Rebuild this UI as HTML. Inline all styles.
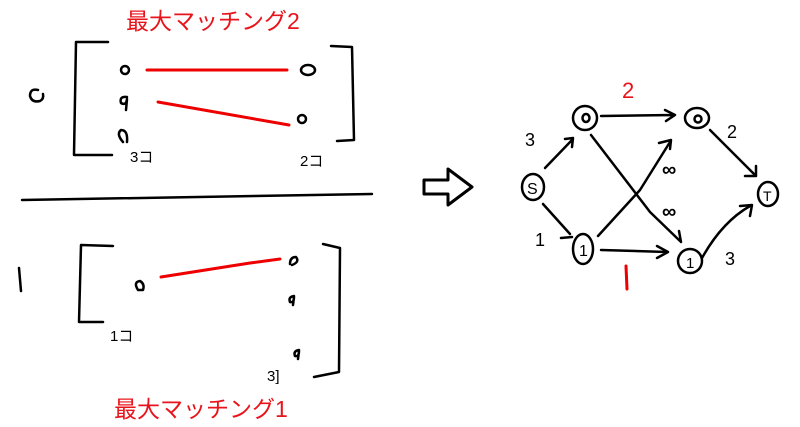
<!DOCTYPE html>
<html><head><meta charset="utf-8"><style>
html,body{margin:0;padding:0;background:#fff;}
svg{display:block;}
text{font-family:"Liberation Sans","Noto Sans CJK JP",sans-serif;}
</style></head><body>
<svg width="800" height="427" viewBox="0 0 800 427" xmlns="http://www.w3.org/2000/svg">
<g fill="none" stroke="#000" stroke-width="2.5" stroke-linecap="round" stroke-linejoin="round">
<!-- top matrix -->
<path d="M108 42 L76 42 L74 155 L112 155"/>
<path d="M331 46 L352 47 L354 140 L337 141"/>
<path d="M22 200 L372 194"/>
<!-- bottom matrix -->
<path d="M113 246 L81 245 L79 322 L103 322"/>
<path d="M323 244 L340 248 L339 372 L314 377"/>
<path d="M19 268 L21 291"/>
<!-- small circles top -->
<ellipse cx="125" cy="70" rx="4" ry="4"/>
<ellipse cx="308" cy="70" rx="7" ry="5"/>
<path d="M127 97 Q119 96 121 103 Q126 106 127 99 L126 110"/>
<ellipse cx="302" cy="119" rx="4" ry="4"/>
<path d="M123 142 Q116 134 121 130 Q128 130 127 142"/>
<path d="M38 90 Q30 88 30 96 Q32 103 40 101 Q44 99 43 94"/>
<!-- small circles bottom -->
<path d="M138 290 Q133 282 140 281 Q145 284 143 290 Z"/>
<path d="M290 264 Q290 257 296 257 Q300 262 292 265"/>
<path d="M294 296 Q288 297 290 302 Q294 303 294 297 L293 305"/>
<path d="M299 350 Q293 351 295 356 Q299 357 299 351 L298 359"/>
<!-- graph nodes -->
<ellipse cx="585" cy="118" rx="12" ry="12"/>
<ellipse cx="697" cy="118" rx="12" ry="10"/>
<ellipse cx="533" cy="187" rx="11" ry="13"/>
<ellipse cx="583" cy="249" rx="10" ry="15"/>
<ellipse cx="690" cy="261" rx="12" ry="12"/>
<ellipse cx="768" cy="194" rx="10" ry="12"/>
<ellipse cx="586" cy="118" rx="3.5" ry="4"/>
<ellipse cx="698" cy="119" rx="3.5" ry="3.5"/>
<!-- edges -->
<path d="M545 168 L572 140 M565 139 L573 138 L572 147"/>
<path d="M543 204 L570 234 M561 238 L572 237"/>
<path d="M601 116 L673 115 M665 110 L675 115 L666 121"/>
<path d="M591 135 L650 212 L680 241 M679 231 L681 242"/>
<path d="M598 236 L640 190 L670 142 M659 143 L671 140 L670 149"/>
<path d="M601 250 L667 252 M657 246 L668 252 L657 258"/>
<path d="M702 258 Q722 222 750 206 M740 206 L752 205 L750 216"/>
<path d="M710 130 L755 175 M745 176 L756 176 L756 166"/>
<!-- hollow arrow -->
<path d="M424 180 L448 180 L448 169 L472 187 L448 205 L448 194 L424 194 Z" stroke-width="3"/>
</g>
<g fill="none" stroke="#e00" stroke-width="3" stroke-linecap="round">
<path d="M147 70 L287 70"/>
<path d="M158 102 L289 125"/>
<path d="M161 277 L250 263 L280 259"/>
<path d="M626 266 L627 289"/>
</g>
<g font-size="15" fill="#000">
<text x="130" y="162">3コ</text>
<text x="300" y="166">2コ</text>
<text x="110" y="341">1コ</text>
<text x="267" y="381">3]</text>
<text x="525" y="146" font-size="18">3</text>
<text x="535" y="246" font-size="18">1</text>
<text x="727" y="138" font-size="18">2</text>
<text x="725" y="265" font-size="18">3</text>
<text x="662" y="176" font-size="20" font-weight="bold">∞</text>
<text x="662" y="218" font-size="20" font-weight="bold">∞</text>
<text x="527" y="194" font-size="16">S</text>
<text x="763" y="201" font-size="14">T</text>
<text x="579" y="256" font-size="16">1</text>
<text x="686" y="268" font-size="15">1</text>
</g>
<text x="126" y="29" font-size="23" fill="#e8141c">最大マッチング2</text>
<text x="114" y="417" font-size="23" fill="#e8141c">最大マッチング1</text>
<text x="622" y="98" font-size="22" fill="#e8141c">2</text>
</svg>
</body></html>
